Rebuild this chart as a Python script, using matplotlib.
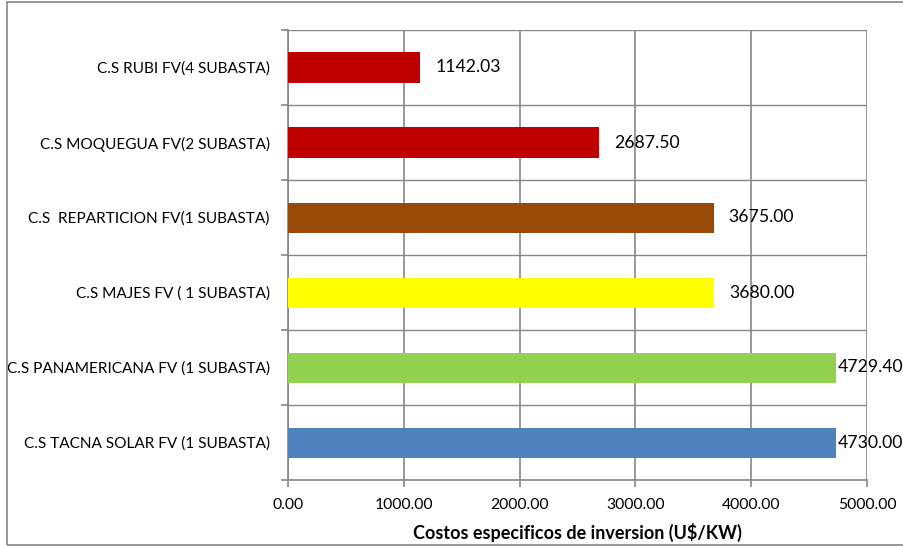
import numpy as np
import matplotlib.pyplot as plt
from matplotlib.patches import Rectangle

plt.rcParams['font.family'] = ['Lato', 'DejaVu Sans']

# data (bottom to top)
categories = ['C.S TACNA SOLAR FV (1 SUBASTA)',
              'C.S PANAMERICANA FV (1 SUBASTA)',
              'C.S MAJES FV ( 1 SUBASTA)',
              'C.S  REPARTICION FV(1 SUBASTA)',
              'C.S MOQUEGUA FV(2 SUBASTA)',
              'C.S RUBI FV(4 SUBASTA)']
values = [4730.00, 4729.40, 3680.00, 3675.00, 2687.50, 1142.03]
colors = ['#4F81BD', '#92D050', '#FFFF00', '#984807', '#C00000', '#C00000']
x_ticks = [0, 1000, 2000, 3000, 4000, 5000]

fig = plt.figure(figsize=(9.04, 5.46), dpi=100)
ax = fig.add_axes([288 / 904, 1 - 480 / 546, 579 / 904, 450 / 546])

# outer chart frame
fig.patches.append(Rectangle((7 / 904, 1 / 546), 1.0, 543 / 546, transform=fig.transFigure,
                             fill=False, edgecolor='#868686', linewidth=1.2, clip_on=False))

grid_col = '#868686'
y = np.arange(len(categories))
ax.barh(y, values, height=0.4, color=colors, zorder=3)

# labels sit just right of the bar end, kept inside the plot area like Excel does
for yi, v in zip(y, values):
    ax.text(min(v + 130, 4745), yi, f'{v:.2f}', va='center', ha='left', fontsize=12.7,
            color='black', zorder=4, clip_on=False)

ax.set_xlim(0, 5000)
ax.set_ylim(-0.5, len(categories) - 0.5)
ax.set_xticks(x_ticks)
ax.set_xticklabels([f'{t:.2f}' for t in x_ticks], fontsize=11.3)
ax.set_yticks(y)
ax.set_yticklabels(categories, fontsize=11.1)
ax.set_yticks(np.arange(-0.5, len(categories), 1), minor=True)
ax.tick_params(axis='y', which='major', length=0, pad=13)
ax.tick_params(axis='y', which='minor', length=5, color=grid_col, width=1.2)
ax.tick_params(axis='x', length=5, color=grid_col, width=1.2, pad=8)

ax.grid(axis='x', color=grid_col, linewidth=1.2, zorder=0)
ax.grid(axis='y', which='minor', color=grid_col, linewidth=1.0, zorder=0)
for s in ['top', 'right']:
    ax.spines[s].set_visible(False)
for s in ['left', 'bottom']:
    ax.spines[s].set_color(grid_col)
    ax.spines[s].set_linewidth(1.2)

ax.set_xlabel('Costos especificos de inversion (U$/KW)', fontsize=13, fontweight='bold', labelpad=8)

fig.savefig('out.png', dpi=100)
